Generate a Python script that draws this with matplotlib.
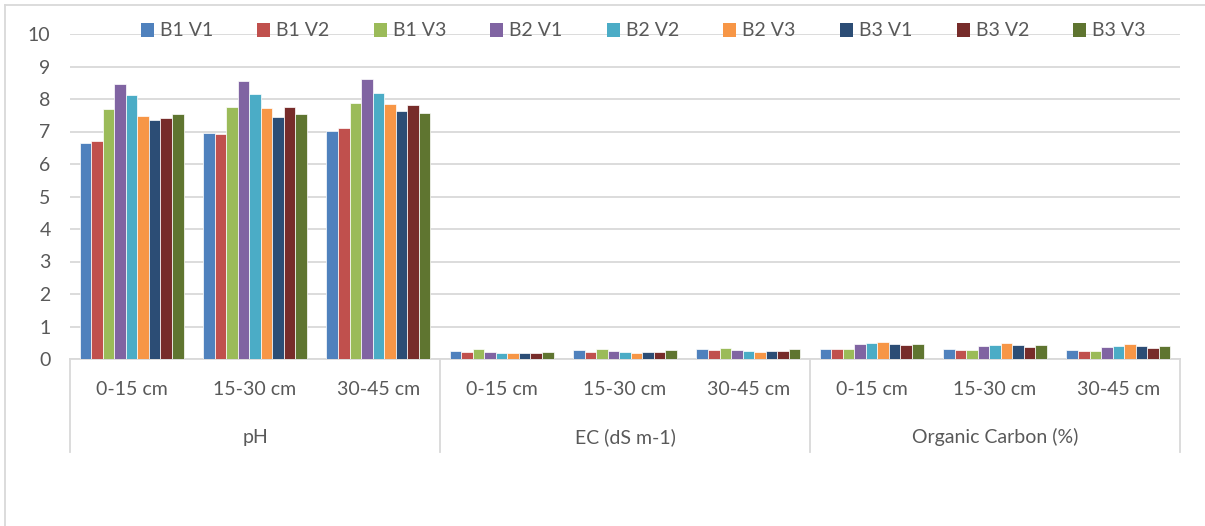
import matplotlib
matplotlib.use("Agg")
import matplotlib.pyplot as plt
import numpy as np
from matplotlib.patches import Rectangle
from matplotlib.lines import Line2D

# ---- data ----
parameters = ["pH", "EC (dS m-1)", "Organic Carbon (%)"]
depths = ["0-15 cm", "15-30 cm", "30-45 cm"]
series_names = ["B1 V1", "B1 V2", "B1 V3", "B2 V1", "B2 V2", "B2 V3", "B3 V1", "B3 V2", "B3 V3"]
colors = ["#4F81BD", "#C0504D", "#9BBB59", "#8064A2", "#4BACC6", "#F79646", "#2C4D75", "#772C2A", "#5F7530"]

# values per series, over the 9 categories (pH x3 depths, EC x3, OC x3)
b1v1 = [6.65, 6.95, 7.03, 0.26, 0.28, 0.32, 0.32, 0.30, 0.27]
b1v2 = [6.70, 6.93, 7.10, 0.23, 0.23, 0.29, 0.30, 0.29, 0.26]
b1v3 = [7.69, 7.76, 7.89, 0.30, 0.32, 0.35, 0.31, 0.28, 0.25]
b2v1 = [8.45, 8.55, 8.62, 0.22, 0.26, 0.29, 0.45, 0.41, 0.37]
b2v2 = [8.12, 8.16, 8.19, 0.20, 0.23, 0.26, 0.48, 0.44, 0.41]
b2v3 = [7.47, 7.71, 7.85, 0.17, 0.20, 0.22, 0.53, 0.50, 0.47]
b3v1 = [7.35, 7.46, 7.63, 0.19, 0.22, 0.24, 0.47, 0.42, 0.40]
b3v2 = [7.42, 7.74, 7.82, 0.20, 0.23, 0.26, 0.42, 0.38, 0.35]
b3v3 = [7.54, 7.55, 7.58, 0.22, 0.27, 0.32, 0.47, 0.44, 0.41]
series_values = [b1v1, b1v2, b1v3, b2v1, b2v2, b2v3, b3v1, b3v2, b3v3]

yticks = list(range(0, 11))

W, H = 1205, 526
fig = plt.figure(figsize=(W / 100, H / 100), dpi=100)
plt.rcParams['font.family'] = ['Lato', 'DejaVu Sans']
txt_color = "#595959"
grid_color = "#D9D9D9"

left, right, top, bottom = 70 / W, 1180 / W, 1 - 34 / H, 1 - 359 / H
ax = fig.add_axes([left, bottom, right - left, top - bottom])

n_cat = len(parameters) * len(depths)
x = np.arange(n_cat)
bw = 0.0935
for i, (vals, c) in enumerate(zip(series_values, colors)):
    ax.bar(x + (i - 4) * bw, vals, width=bw, color=c, edgecolor="white", linewidth=0.5, zorder=3)

ax.set_xlim(-0.5, n_cat - 0.5)
ax.set_ylim(0, 10)
ax.set_yticks(yticks)
ax.set_yticklabels([str(v) for v in yticks], fontsize=14, color=txt_color)
ax.tick_params(axis='y', length=0, pad=14)
ax.grid(axis='y', color=grid_color, linewidth=1.3, zorder=0)
for s in ["top", "right", "left"]:
    ax.spines[s].set_visible(False)
ax.spines["bottom"].set_color(grid_color)
ax.spines["bottom"].set_linewidth(1.3)

# first-level category labels
ax.set_xticks(x)
ax.set_xticklabels(depths * len(parameters), fontsize=14, color=txt_color)
ax.tick_params(axis='x', length=0, pad=16)

# second-level labels and separators
trans = ax.get_xaxis_transform()
sep_bottom = -(452 - 359) / (359 - 34)
for k, p in enumerate(parameters):
    ax.text(k * 3 + 1, -(437 - 359) / (359 - 34), p, transform=trans, ha="center", va="center",
            fontsize=14, color=txt_color)
for k in range(len(parameters) + 1):
    ax.add_line(Line2D([k * 3 - 0.5, k * 3 - 0.5], [0, sep_bottom], transform=trans,
                       color=grid_color, linewidth=1.3, clip_on=False))

# legend (manual, single row at top)
leg_x = [141, 257, 374, 490, 607, 723, 840, 957, 1073]
leg_y = 30
sq = 13
for name, c, lx in zip(series_names, colors, leg_x):
    fig.patches.append(Rectangle((lx / W, 1 - (leg_y + sq / 2) / H), sq / W, sq / H,
                                 transform=fig.transFigure, facecolor=c, edgecolor="none"))
    fig.text((lx + sq + 6) / W, 1 - leg_y / H, name, fontsize=14, color=txt_color,
             ha="left", va="center")

# outer chart border (left and top visible)
fig.add_artist(Line2D([5 / W, 5 / W], [0, 1 - 5 / H], transform=fig.transFigure, color=grid_color, linewidth=1.3))
fig.add_artist(Line2D([5 / W, 1], [1 - 5 / H, 1 - 5 / H], transform=fig.transFigure, color=grid_color, linewidth=1.3))

fig.savefig("out.png", dpi=100, facecolor="white")
